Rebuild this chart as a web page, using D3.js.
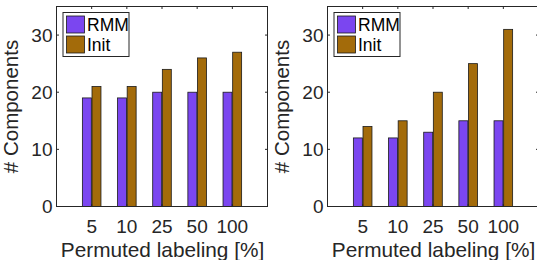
<!DOCTYPE html>
<html><head><meta charset="utf-8">
<script src="https://cdn.jsdelivr.net/npm/d3@7/dist/d3.min.js"></script>
<style>
html,body{margin:0;padding:0;background:#fff;}
svg{display:block;font-family:"Liberation Sans",Arial,Helvetica,sans-serif;}
</style></head><body>
<svg id="chart" width="537" height="260"></svg>
<script>
const categories = ["5","10","25","50","100"];
const seriesNames = ["RMM","Init"];
const leftRMM = [19,19,20,20,20];
const leftInit = [21,21,24,26,27];
const rightRMM = [12,12,13,15,15];
const rightInit = [14,15,20,25,31];
const yTicks = [0,10,20,30];
const xLabel = "Permuted labeling [%]";
const yLabel = "# Components";

const colors = ["#7b46f0","#a36b0a"];
const axisColor = "#262626";
const svg = d3.select("#chart");

function panel(x0, values) {
  const W = 211, top = 6.5, bottom = 206.5;
  const x = d3.scaleLinear().domain([0,6]).range([x0, x0+W]);
  const y = d3.scaleLinear().domain([0,35]).range([bottom, top]);
  const g = svg.append("g");
  const barW = 0.255, off = 0.137;
  values.forEach((vals, s) => {
    g.selectAll(null).data(vals).enter().append("rect")
      .attr("x", (d,i) => x(i+1 + (s===0?-off:off) - barW/2))
      .attr("width", x(barW) - x(0))
      .attr("y", d => y(d))
      .attr("height", d => y(0) - y(d))
      .attr("fill", colors[s])
      .attr("stroke", "#1a1a1a")
      .attr("stroke-width", 0.8);
  });
  g.append("rect").attr("x", x(0)).attr("y", y(35)).attr("width", x(6)-x(0)).attr("height", y(0)-y(35))
    .attr("fill","none").attr("stroke", axisColor).attr("stroke-width", 1);
  categories.forEach((c,i) => {
    const xx = x(i+1);
    g.append("line").attr("x1",xx).attr("x2",xx).attr("y1",y(0)).attr("y2",y(0)-2.5).attr("stroke",axisColor);
    g.append("line").attr("x1",xx).attr("x2",xx).attr("y1",y(35)).attr("y2",y(35)+2.5).attr("stroke",axisColor);
    g.append("text").attr("x",xx).attr("y",232.5).attr("text-anchor","middle")
      .attr("font-size",19).attr("fill",axisColor).text(c);
  });
  yTicks.forEach(t => {
    const yy = y(t);
    g.append("line").attr("x1",x(0)).attr("x2",x(0)+2.5).attr("y1",yy).attr("y2",yy).attr("stroke",axisColor);
    g.append("line").attr("x1",x(6)).attr("x2",x(6)-2.5).attr("y1",yy).attr("y2",yy).attr("stroke",axisColor);
    g.append("text").attr("x",x(0)-4).attr("y",yy).attr("dy","0.36em").attr("text-anchor","end")
      .attr("font-size",19).attr("fill",axisColor).text(t);
  });
  g.append("text").attr("x", x(3)+0.5).attr("y", 256.5).attr("text-anchor","middle")
    .attr("font-size",20.8).attr("fill",axisColor).text(xLabel);
  g.append("text").attr("transform",`translate(${x0-39},${y(17.5)}) rotate(-90)`)
    .attr("text-anchor","middle").attr("font-size",20.5).attr("fill",axisColor).text(yLabel);
  const lx = x0+6.5, ly = 12.5;
  g.append("rect").attr("x",lx).attr("y",ly).attr("width",66).attr("height",44)
    .attr("fill","#fff").attr("stroke",axisColor).attr("stroke-width",1);
  seriesNames.forEach((n,s) => {
    const sy = ly + 3.5 + s*20;
    g.append("rect").attr("x",lx+3.5).attr("y",sy).attr("width",18).attr("height",17)
      .attr("fill",colors[s]).attr("stroke","#1a1a1a").attr("stroke-width",0.8);
    g.append("text").attr("x",lx+24).attr("y",sy+8.5).attr("dy","0.36em")
      .attr("font-size",17.5).attr("fill","#000").text(n);
  });
}
panel(56.5, [leftRMM, leftInit]);
panel(327.5, [rightRMM, rightInit]);
</script>
</body></html>
